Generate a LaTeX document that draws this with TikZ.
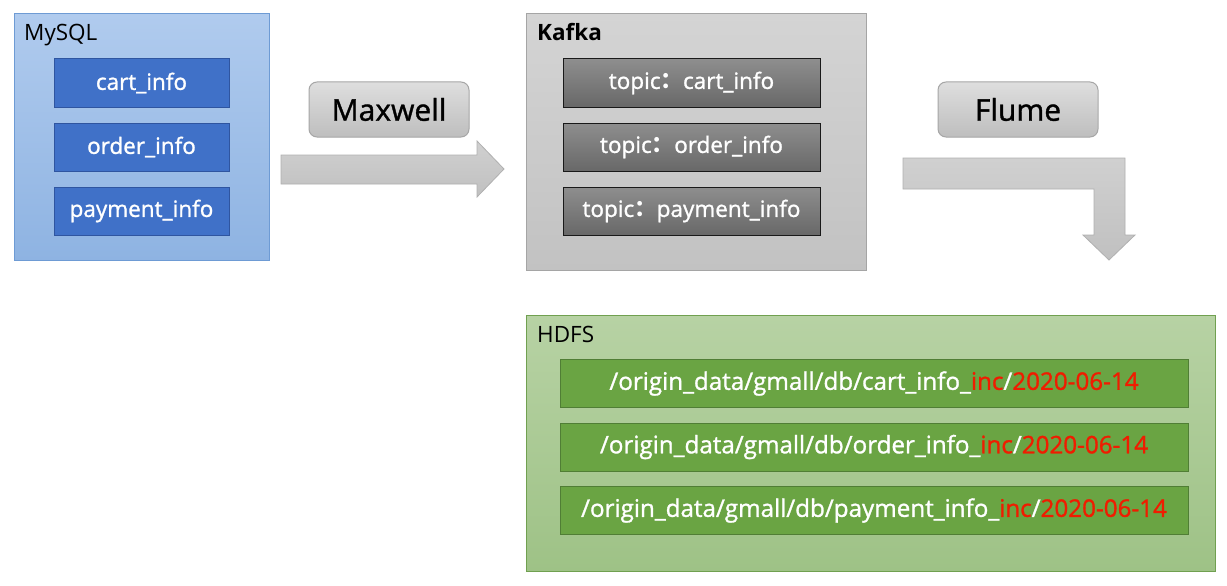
\documentclass[tikz,border=0pt]{standalone}
\usepackage{fontspec}
\setmainfont{Open Sans}
\newfontfamily\semib{Open Sans}[FakeBold=1.2]
\newfontfamily\cjk{Noto Sans CJK SC}
\definecolor{redtxt}{RGB}{240,28,0}
\definecolor{mysqlborder}{RGB}{110,155,212}
\definecolor{mysqltop}{RGB}{176,203,238}
\definecolor{mysqlbot}{RGB}{142,179,226}
\definecolor{kafkaborder}{RGB}{165,165,165}
\definecolor{kafkatop}{RGB}{212,212,212}
\definecolor{kafkabot}{RGB}{194,194,194}
\definecolor{hdfsborder}{RGB}{112,160,80}
\definecolor{hdfstop}{RGB}{183,210,164}
\definecolor{hdfsbot}{RGB}{158,194,134}
\definecolor{blueborder}{RGB}{47,85,160}
\definecolor{bluefill}{RGB}{64,113,200}
\definecolor{graytop}{RGB}{142,142,142}
\definecolor{graybot}{RGB}{104,104,104}
\definecolor{greenborder}{RGB}{80,126,53}
\definecolor{greenfill}{RGB}{106,164,67}
\definecolor{btnborder}{RGB}{166,166,166}
\definecolor{btntop}{RGB}{222,222,222}
\definecolor{btnbot}{RGB}{190,190,190}
\definecolor{arrborder}{RGB}{176,176,176}
\definecolor{arrtop}{RGB}{208,208,208}
\definecolor{arrbot}{RGB}{192,192,192}
\newcommand{\fcolon}{{\cjk\bfseries ：}}
\tikzset{
  container/.style={draw=#1, line width=1pt, anchor=north west, inner sep=0pt},
  mysqlbox/.style={container=mysqlborder, top color=mysqltop, bottom color=mysqlbot},
  kafkabox/.style={container=kafkaborder, top color=kafkatop, bottom color=kafkabot},
  hdfsbox/.style={container=hdfsborder, top color=hdfstop, bottom color=hdfsbot},
  item/.style={minimum height=48pt, inner sep=0pt, line width=1pt, text=white, font=\semib\fontsize{22.5}{26}\selectfont},
  blueitem/.style={item, minimum width=175pt, draw=blueborder, fill=bluefill},
  grayitem/.style={item, minimum width=257pt, draw=black!90, top color=graytop, bottom color=graybot},
  greenitem/.style={item, minimum width=628pt, draw=greenborder, fill=greenfill, font=\semib\fontsize{24.2}{28}\selectfont},
  button/.style={draw=btnborder, line width=1pt, rounded corners=8pt, minimum width=160pt, minimum height=55pt, inner sep=0pt, top color=btntop, bottom color=btnbot, font=\semib\fontsize{30}{36}\selectfont},
  blockarrow/.style={draw=arrborder, line width=0.8pt, top color=arrtop, bottom color=arrbot},
  title/.style={anchor=base west, inner sep=0pt, font=\fontsize{22.5}{26}\selectfont}
}
\begin{document}
\begin{tikzpicture}[x=1pt,y=-1pt]
\useasboundingbox[fill=white] (0,0) rectangle (1227,586);

% MySQL
\node[mysqlbox, minimum width=255pt, minimum height=247pt] (mysql) at (14,13) {};
\node[title] (mysqlt) at (24,41) {MySQL};
\node[blueitem] (m1) at (141.5,83) {cart\_info};
\node[blueitem] (m2) at (141.5,147) {order\_info};
\node[blueitem] (m3) at (141.5,211) {payment\_info};

% Maxwell
\node[button] (maxwell) at (389,109.5) {Maxwell};
\path[blockarrow] (281,155) -- (477,155) -- (477,141) -- (504,169) -- (477,197) -- (477,184) -- (281,184) -- cycle;

% Kafka
\node[kafkabox, minimum width=340pt, minimum height=257pt] (kafka) at (526,13) {};
\node[title] (kafkat) at (537,41) {\textbf{Kafka}};
\node[grayitem] (k1) at (691.5,83) {topic\fcolon cart\_info};
\node[grayitem] (k2) at (691.5,147) {topic\fcolon order\_info};
\node[grayitem] (k3) at (691.5,211) {topic\fcolon payment\_info};

% Flume
\node[button] (flume) at (1018,109.5) {Flume};
\path[blockarrow] (903,158) -- (1125,158) -- (1125,235) -- (1135,235) -- (1109,260) -- (1083,235) -- (1094,235) -- (1094,189) -- (903,189) -- cycle;

% HDFS
\node[hdfsbox, minimum width=689pt, minimum height=256pt] (hdfs) at (526,315) {};
\node[title] (hdfst) at (537,342) {HDFS};
\node[greenitem] (h1) at (874,383.5) {/origin\_data/gmall/db/cart\_info\_\textcolor{redtxt}{inc}/\textcolor{redtxt}{2020-06-14}};
\node[greenitem] (h2) at (874,447) {/origin\_data/gmall/db/order\_info\_\textcolor{redtxt}{inc}/\textcolor{redtxt}{2020-06-14}};
\node[greenitem] (h3) at (874,510.5) {/origin\_data/gmall/db/payment\_info\_\textcolor{redtxt}{inc}/\textcolor{redtxt}{2020-06-14}};
\end{tikzpicture}
\end{document}
